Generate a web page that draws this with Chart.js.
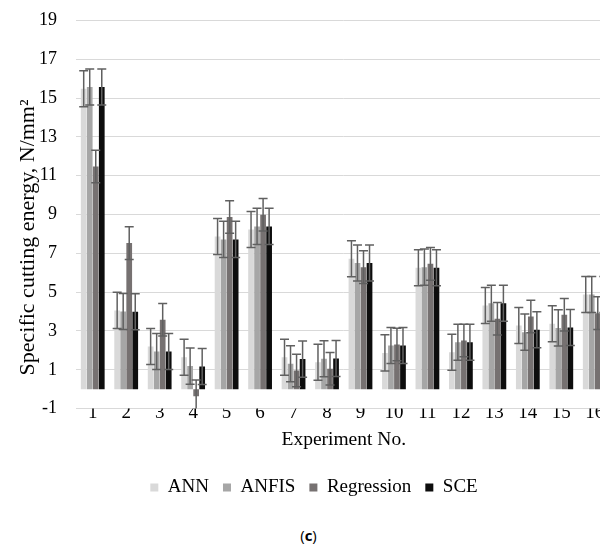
<!DOCTYPE html>
<html>
<head>
<meta charset="utf-8">
<script src="https://cdn.jsdelivr.net/npm/chart.js@4.4.1/dist/chart.umd.min.js"></script>
<style>
  body { margin: 0; background: #fff; width: 600px; height: 548px; overflow: hidden; position: relative; }
  #wrap { position: absolute; left: 0; top: 0; width: 625px; height: 507px; }
  #cap { position: absolute; left: 0; top: 525px; width: 617px; text-align: center; font: 15px "Open Sans", sans-serif; color: #000; }
</style>
</head>
<body>
<div id="wrap"><canvas id="chartCanvas"></canvas></div>
<div id="cap">(<b>c</b>)</div>
<script>
// experiment numbers
const experiments = ['1', '2', '3', '4', '5', '6', '7', '8', '9', '10', '11', '12', '13', '14', '15', '16'];

// specific cutting energy, N/mm2
const ann        = [15.48, 4.06, 2.20, 1.65, 7.87, 8.23, 1.65, 1.39, 6.72, 1.87, 6.26, 1.90, 4.31, 3.28, 3.37, 4.88];
const anfis      = [15.57, 4.00, 1.94, 1.19, 7.72, 8.39, 1.31, 1.57, 6.50, 2.25, 6.29, 2.42, 4.43, 2.94, 3.16, 4.88];
const regression = [11.48, 7.53, 3.58, -0.37, 8.87, 8.99, 0.96, 1.05, 6.29, 2.30, 6.46, 2.51, 3.63, 3.75, 3.84, 3.92];
const sce        = [15.57, 3.99, 1.94, 1.17, 7.72, 8.39, 1.55, 1.58, 6.50, 2.25, 6.26, 2.42, 4.43, 3.06, 3.18, 4.88];

// error bar size of each series (ANN, ANFIS, Regression, SCE)
const errAmounts = [0.93, 0.93, 0.84, 0.93];

const yTicks = [-1, 1, 3, 5, 7, 9, 11, 13, 15, 17, 19];
const yTitle = 'Specific cutting energy, N/mm\u00b2';

const serif = "'Liberation Serif', 'Times New Roman', serif";

const errorBars = {
    id: 'errorBars',
    afterDatasetsDraw(chart) {
        const ctx = chart.ctx;
        const y = chart.scales.y;
        const a = chart.chartArea;
        ctx.save();
        ctx.beginPath();
        ctx.rect(a.left, a.top, a.right - a.left, a.bottom - a.top);
        ctx.clip();
        ctx.strokeStyle = '#606060';
        ctx.lineWidth = 1.5;
        chart.data.datasets.forEach((ds, i) => {
            const meta = chart.getDatasetMeta(i);
            meta.data.forEach((bar, j) => {
                const v = ds.data[j];
                const top = y.getPixelForValue(v + ds.err);
                const bot = y.getPixelForValue(v - ds.err);
                const x = bar.x;
                ctx.beginPath();
                ctx.moveTo(x, top); ctx.lineTo(x, bot);
                ctx.moveTo(x - 4.5, top); ctx.lineTo(x + 4.5, top);
                ctx.moveTo(x - 4.5, bot); ctx.lineTo(x + 4.5, bot);
                ctx.stroke();
            });
        });
        ctx.restore();
    }
};

// vertical axis title, placed like the original (a little below the plot's middle)
const sideTitle = {
    id: 'sideTitle',
    afterDraw(chart) {
        const ctx = chart.ctx;
        const a = chart.chartArea;
        ctx.save();
        ctx.translate(28, a.top + (a.bottom - a.top) * 0.559);
        ctx.rotate(-Math.PI / 2);
        ctx.fillStyle = '#000';
        ctx.font = "22px " + serif;
        ctx.textAlign = 'center';
        ctx.textBaseline = 'middle';
        ctx.fillText(yTitle, 0, 0);
        ctx.restore();
    }
};

const ctx = document.getElementById('chartCanvas');
new Chart(ctx, {
    type: 'bar',
    data: {
        labels: experiments,
        datasets: [
            { label: 'ANN', data: ann, err: errAmounts[0], backgroundColor: '#d9d9d9' },
            { label: 'ANFIS', data: anfis, err: errAmounts[1], backgroundColor: '#a6a6a6' },
            { label: 'Regression', data: regression, err: errAmounts[2], backgroundColor: '#767171' },
            { label: 'SCE', data: sce, err: errAmounts[3], backgroundColor: '#0d0d0d' }
        ]
    },
    options: {
        responsive: true,
        maintainAspectRatio: false,
        animation: false,
        devicePixelRatio: 1,
        datasets: { bar: { barPercentage: 0.95, categoryPercentage: 0.72 } },
        layout: { padding: { top: 20.5, right: 13.5, left: 16.5, bottom: 0 } },
        plugins: {
            tooltip: { enabled: false },
            legend: {
                position: 'bottom',
                labels: {
                    boxWidth: 8, boxHeight: 8, padding: 14,
                    color: '#000',
                    font: { family: serif, size: 19 }
                }
            }
        },
        scales: {
            x: {
                afterFit: (scale) => { scale.height = 55.4; },
                grid: { display: false, drawTicks: false },
                border: { color: '#d9d9d9' },
                ticks: { color: '#000', font: { family: serif, size: 19, lineHeight: 1 }, padding: -5 },
                title: { display: true, text: 'Experiment No.', color: '#000', font: { family: serif, size: 19.5 }, padding: { top: 0, bottom: 12.8 } }
            },
            y: {
                min: -1,
                max: 19,
                afterBuildTicks: (scale) => { scale.ticks = yTicks.map(v => ({ value: v })); },
                afterFit: (scale) => {
                    scale.width = 59.5;
                    scale.paddingTop = 0;
                    scale.paddingBottom = 0;
                },
                grid: { color: '#d9d9d9', drawTicks: false },
                border: { display: false },
                ticks: { color: '#000', font: { family: serif, size: 18 }, padding: 19 }
            }
        }
    },
    plugins: [errorBars, sideTitle]
});
</script>
</body>
</html>
